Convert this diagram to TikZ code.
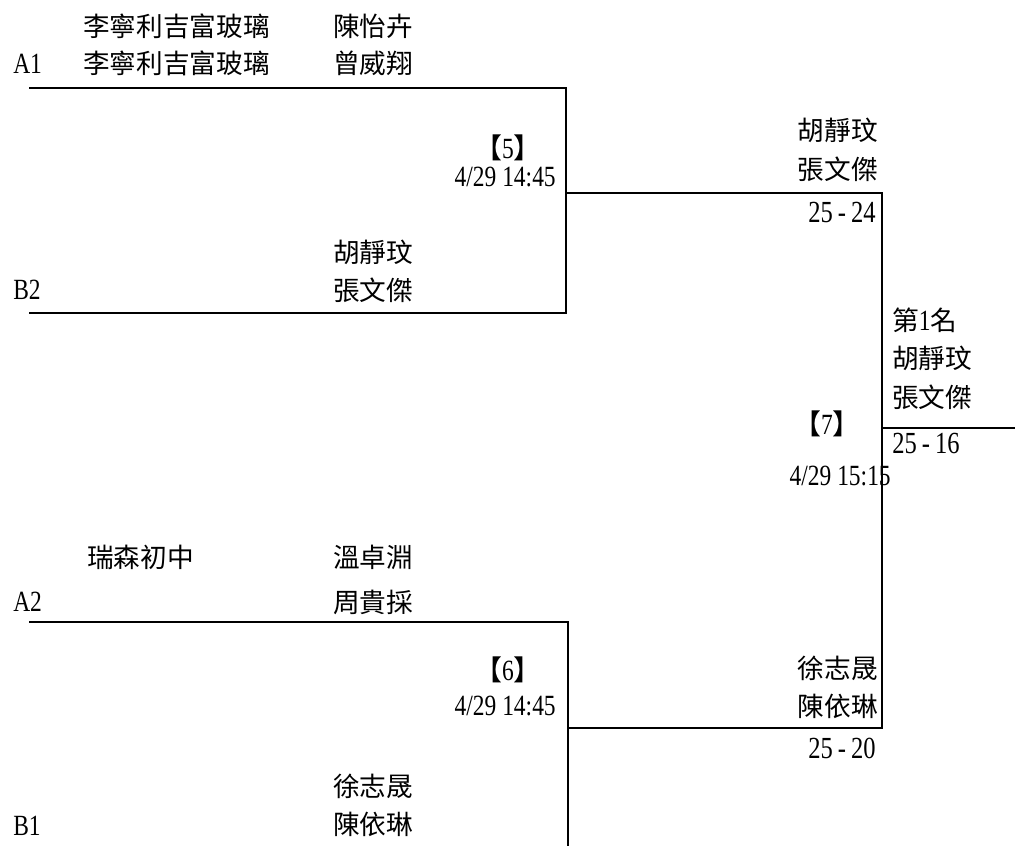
\documentclass[tikz,border=0pt]{standalone}
\usepackage{fontspec}
\setmainfont{Liberation Serif}[FakeStretch=0.8]
\newfontfamily\cjk{Noto Sans CJK TC}
\newcommand{\latsz}{\fontsize{22pt}{24pt}\selectfont}
\newcommand{\scoresz}{\fontsize{23pt}{25pt}\selectfont}
\newcommand{\cjksz}{\fontsize{20pt}{22pt}\selectfont\cjk}
\newcommand{\brsz}{\fontsize{21pt}{23pt}\selectfont\cjk}
\begin{document}
\begin{tikzpicture}[x=0.75pt,y=-0.75pt,
  cn/.style={inner sep=0pt,font=\cjksz},
  ln/.style={inner sep=0pt,font=\latsz},
  sn/.style={inner sep=0pt,font=\scoresz},
  wire/.style={line width=1.4pt,line join=miter}]
\useasboundingbox (0,0) rectangle (1015,846);
% --- coordinates of the bracket
\coordinate (a1s) at (29,88);   \coordinate (a1e) at (566,88);
\coordinate (b2s) at (29,313);  \coordinate (b2e) at (566,313);
\coordinate (m5o) at (566,193); \coordinate (m5e) at (882,193);
\coordinate (a2s) at (29,622);  \coordinate (a2e) at (568,622);
\coordinate (b1e) at (568,846);
\coordinate (m6o) at (568,728); \coordinate (m6e) at (882,728);
\coordinate (fin) at (882,428); \coordinate (fine) at (1015,428);
% --- lines
\draw[wire] (a1s) -- (a1e) -- (b2e) -- (b2s);
\draw[wire] (m5o) -- (m5e) -- (m6e) -- (m6o);
\draw[wire] (a2s) -- (a2e) -- (b1e);
\draw[wire] (fin) -- (fine);
% --- top pair A1
\node[cn,anchor=west] (t1a) at (83,26) {李寧利吉富玻璃};
\node[cn,anchor=west] (t1b) at (83,63) {李寧利吉富玻璃};
\node[cn,anchor=west] (p1a) at (333,26) {陳怡卉};
\node[cn,anchor=west] (p1b) at (333,63) {曾威翔};
\node[ln,anchor=west] (lA1) at (13,64) {A1};
% --- B2
\node[cn,anchor=west] (p2a) at (333,252) {胡靜玟};
\node[cn,anchor=west] (p2b) at (333,290) {張文傑};
\node[ln,anchor=west] (lB2) at (13,290) {B2};
% --- match 5
\node[inner sep=0pt,font=\latsz] (m5) at (508,148) {{\brsz 【}5{\brsz 】}};
\node[ln,anchor=east] (d5) at (556,177) {4/29 14:45};
\node[cn,anchor=east] (w5a) at (878,130) {胡靜玟};
\node[cn,anchor=east] (w5b) at (878,169) {張文傑};
\node[sn,anchor=east] (s5) at (876,212) {25\,-\,24};
% --- final
\node[inner sep=0pt,font=\latsz,anchor=west] (f1) at (892,320) {{\cjksz 第}1{\cjksz 名}};
\node[cn,anchor=west] (f2) at (892,358) {胡靜玟};
\node[cn,anchor=west] (f3) at (892,397) {張文傑};
\node[sn,anchor=west] (fs) at (892,443) {25\,-\,16};
\node[inner sep=0pt,font=\latsz] (m7) at (827,424) {{\brsz 【}7{\brsz 】}};
\node[ln,anchor=east] (d7) at (891,476) {4/29 15:15};
% --- A2
\node[cn,anchor=west] (t3a) at (87,557) {瑞森初中};
\node[cn,anchor=west] (p3a) at (333,557) {溫卓淵};
\node[cn,anchor=west] (p3b) at (333,602) {周貴採};
\node[ln,anchor=west] (lA2) at (13,602) {A2};
% --- match 6
\node[inner sep=0pt,font=\latsz] (m6) at (508,670) {{\brsz 【}6{\brsz 】}};
\node[ln,anchor=east] (d6) at (556,706) {4/29 14:45};
\node[cn,anchor=east] (w6a) at (878,668) {徐志晟};
\node[cn,anchor=east] (w6b) at (878,706) {陳依琳};
\node[sn,anchor=east] (s6) at (876,748) {25\,-\,20};
% --- B1
\node[cn,anchor=west] (p4a) at (333,786) {徐志晟};
\node[cn,anchor=west] (p4b) at (333,824) {陳依琳};
\node[ln,anchor=west] (lB1) at (13,826) {B1};
\end{tikzpicture}
\end{document}
